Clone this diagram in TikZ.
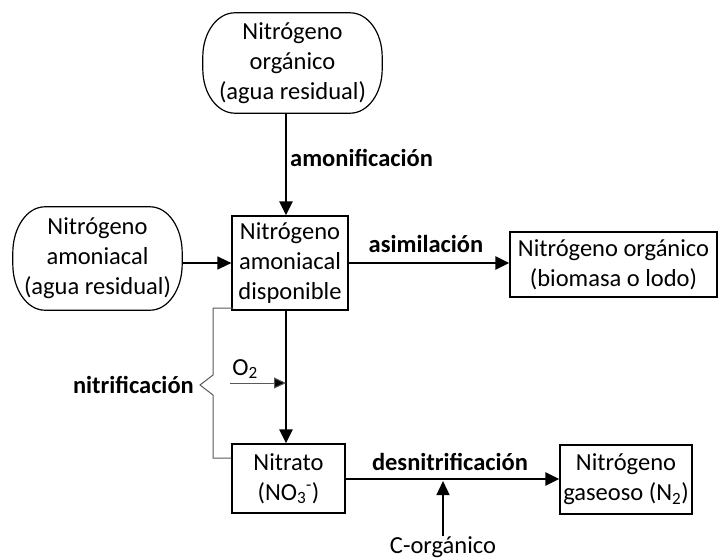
\documentclass[tikz,border=0pt]{standalone}
\usepackage{fontspec}
\setmainfont{Carlito}
\usetikzlibrary{arrows.meta}
% Outline with elliptical corners around a node: #1 node, #2 x radius, #3 y radius
\newcommand\softoutline[3]{%
  \draw[boxline] ([xshift=#2]#1.north west) -- ([xshift=-#2]#1.north east)
    arc[start angle=90,end angle=0,x radius=#2,y radius=#3]
    -- ([yshift=#3]#1.south east)
    arc[start angle=0,end angle=-90,x radius=#2,y radius=#3]
    -- ([xshift=#2]#1.south west)
    arc[start angle=270,end angle=180,x radius=#2,y radius=#3]
    -- ([yshift=-#3]#1.north west)
    arc[start angle=180,end angle=90,x radius=#2,y radius=#3] -- cycle;}
\begin{document}
\begin{tikzpicture}[x=1pt,y=1pt,
  every node/.style={font=\fontsize{24.5}{30}\selectfont, align=center, inner sep=0pt},
  boxline/.style={line width=1.2pt},
  softbox/.style={minimum width=#1},
  plainbox/.style={draw, line width=1.2pt},
  flow/.style={line width=2.6pt, -{Triangle[length=14pt,width=13pt]}},
  thinflow/.style={line width=1.4pt, -{Triangle[length=14pt,width=13pt]}},
  brace/.style={draw=black!65, line width=1pt},
  proc/.style={font=\fontsize{24.5}{30}\selectfont\bfseries}]
\useasboundingbox (0,0) rectangle (723,-559);

% Sources of nitrogen
\node[minimum width=179pt, minimum height=100pt] (orgIn) at (292.5,-63)
  {Nitrógeno\\orgánico\\(agua residual)};
\softoutline{orgIn}{32pt}{44pt}
\node[minimum width=169pt, minimum height=103pt] (amoIn) at (97.5,-258.5)
  {Nitrógeno\\amoniacal\\(agua residual)};
\softoutline{amoIn}{32pt}{46pt}

% Available ammonia and its products
\node[plainbox, minimum width=116pt, minimum height=94pt] (avail) at (290,-263)
  {Nitrógeno\\amoniacal\\disponible};
\node[plainbox, minimum width=207pt, minimum height=65pt] (bio) at (613.5,-264.5)
  {Nitrógeno orgánico\\(biomasa o lodo)};
\node[plainbox, minimum width=113pt, minimum height=69pt] (nitrate) at (288.5,-478.5)
  {Nitrato\\(NO\textsubscript{3}\textsuperscript{-})};
\node[plainbox, minimum width=132pt, minimum height=69pt] (gas) at (626,-479.5)
  {Nitrógeno\\gaseoso (N\textsubscript{2})};

% Vertical process axis
\coordinate (axis) at (286,0);

% Ammonification
\draw[flow] (orgIn.south -| axis) -- (avail.north -| axis);
\node[proc, anchor=west] (amon) at (290,-158) {amonificación};

% Ammonia from wastewater
\draw[thinflow] (amoIn.east |- avail.west) -- (avail.west);

% Assimilation
\draw[flow] (avail.east) -- (bio.west |- avail.east);
\node[proc] (asim) at (426,-244) {asimilación};

% Nitrification
\draw[flow] (avail.south -| axis) -- (nitrate.north -| axis);
\coordinate (oxIn) at (230,-383);
\draw[line width=1pt, draw=black!65, -{Triangle[length=12pt,width=11pt,fill=black]}] (oxIn) -- (oxIn -| axis);
\node (oxy) at (245,-369) {O\textsubscript{2}};
\coordinate (braceTop) at (233,-308);
\coordinate (braceBot) at (231,-458);
\coordinate (braceTip) at (200,-385);
\draw[brace] (braceTop) -- (213,-308) -- (213,-375) -- (braceTip) -- (213,-395) -- (213,-458) -- (braceBot);
\node[proc, anchor=east] (nitr) at (194,-385) {nitrificación};

% Denitrification
\draw[flow] (nitrate.east |- 0,-479) -- (gas.west |- 0,-479);
\node[proc] (desn) at (450,-462) {desnitrificación};
\node (corg) at (443,-547) {C-orgánico};
\draw[thinflow] (corg.north) -- (443,-481);
\end{tikzpicture}
\end{document}
